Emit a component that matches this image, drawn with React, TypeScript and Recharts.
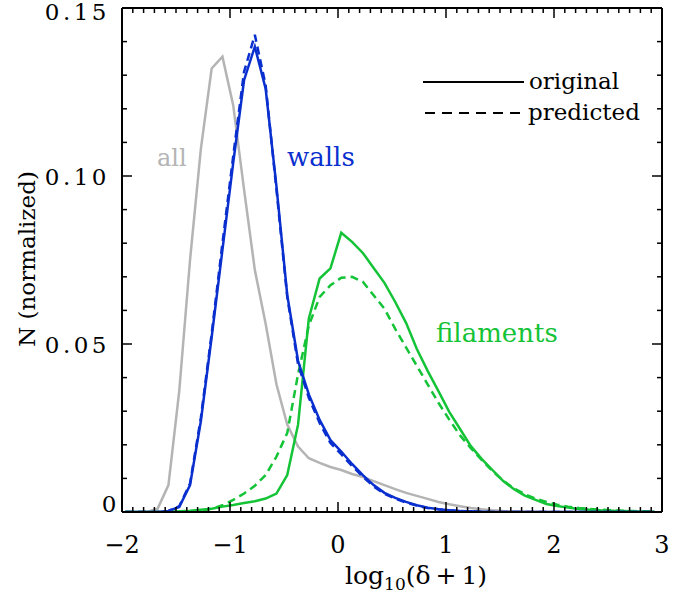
import React from 'react';
import { LineChart, Line, XAxis, YAxis, ReferenceLine } from 'recharts';

// bin centres of log10(delta+1)
const xVals = [
  -1.97, -1.87, -1.77, -1.67, -1.57, -1.47, -1.37, -1.27, -1.17, -1.07,
  -0.97, -0.87, -0.77, -0.67, -0.57, -0.47, -0.37, -0.27, -0.17, -0.07,
  0.03, 0.13, 0.23, 0.33, 0.43, 0.53, 0.63, 0.73, 0.83, 0.93,
  1.03, 1.13, 1.23, 1.33, 1.43, 1.53, 1.63, 1.73, 1.83, 1.93,
  2.03, 2.13, 2.23, 2.33, 2.43, 2.53, 2.63, 2.73, 2.83, 2.93,
];

const allVals = [
  0, 0, 0, 0.001, 0.008, 0.036, 0.075, 0.108, 0.132, 0.1355,
  0.121, 0.096, 0.072, 0.056, 0.038, 0.026, 0.0195, 0.016, 0.0146, 0.0134,
  0.0125, 0.0113, 0.0104, 0.0092, 0.008, 0.0068, 0.0057, 0.0048, 0.0039, 0.003,
  0.0023, 0.0017, 0.0012, 0.0008, 0.0005, 0.0003, 0.0002, 0.0001, 0.0001, 0,
  0, 0, 0, 0, 0, 0, 0, 0, 0, 0,
];

const wallsOrig = [
  0, 0, 0, 0, 0.0003, 0.0015, 0.008, 0.027, 0.052, 0.078,
  0.104, 0.1285, 0.1385, 0.126, 0.097, 0.0646, 0.045, 0.035, 0.0274, 0.0214,
  0.018, 0.0143, 0.011, 0.008, 0.0057, 0.0042, 0.003, 0.002, 0.0013, 0.0008,
  0.0005, 0.0003, 0.0002, 0.0001, 0, 0, 0, 0, 0, 0,
  0, 0, 0, 0, 0, 0, 0, 0, 0, 0,
];

const wallsPred = [
  0, 0, 0, 0, 0.0003, 0.0017, 0.0085, 0.028, 0.053, 0.08,
  0.106, 0.131, 0.142, 0.127, 0.096, 0.064, 0.044, 0.034, 0.0265, 0.0205,
  0.0172, 0.0137, 0.0105, 0.0076, 0.0054, 0.004, 0.0028, 0.0019, 0.0012, 0.0008,
  0.0005, 0.0003, 0.0002, 0.0001, 0, 0, 0, 0, 0, 0,
  0, 0, 0, 0, 0, 0, 0, 0, 0, 0,
];

const filOrig = [
  0, 0, 0, 0, 0.0001, 0.0002, 0.0004, 0.0007, 0.001, 0.0016,
  0.0021, 0.0027, 0.0032, 0.004, 0.0055, 0.011, 0.026, 0.0576, 0.0695, 0.0725,
  0.0831, 0.0804, 0.0771, 0.0726, 0.0682, 0.0625, 0.0563, 0.0485, 0.042, 0.036,
  0.0298, 0.0247, 0.0196, 0.0158, 0.0125, 0.0092, 0.0068, 0.0049, 0.0036, 0.0024,
  0.0018, 0.0013, 0.0009, 0.0007, 0.0005, 0.0004, 0.0003, 0.0002, 0.0001, 0.0001,
];

const filPred = [
  0, 0, 0, 0, 0, 0.0001, 0.0002, 0.0004, 0.001, 0.002,
  0.0036, 0.0055, 0.0078, 0.011, 0.0165, 0.0235, 0.041, 0.0555, 0.064, 0.0675,
  0.0697, 0.07, 0.0685, 0.0645, 0.0605, 0.0545, 0.049, 0.0435, 0.038, 0.0325,
  0.0275, 0.0228, 0.019, 0.0155, 0.0122, 0.0093, 0.007, 0.0053, 0.004, 0.003,
  0.0022, 0.0016, 0.0012, 0.0009, 0.0007, 0.0005, 0.0004, 0.0003, 0.0002, 0.0001,
];

const xMajorLabels = ['\u22122', '\u22121', '0', '1', '2', '3'];
const yMajorLabels = ['0', '0.05', '0.10', '0.15'];

const data = xVals.map((x, i) => ({
  x,
  all: allVals[i],
  wallsOrig: wallsOrig[i],
  wallsPred: wallsPred[i],
  filOrig: filOrig[i],
  filPred: filPred[i],
}));

const xTicks: number[] = [];
for (let i = -20; i <= 30; i++) xTicks.push(i / 10);
const yTicks: number[] = [];
for (let i = 0; i <= 15; i++) yTicks.push(i / 100);

const W = 679;
const H = 594;
const PLOT_TOP = 8;
const PLOT_RIGHT = 662;
const FONT = '"DejaVu Serif", serif';
const GRAY = '#b4b4b4';
const BLUE = '#0a2fcf';
const GREEN = '#14c336';

const XTick = (props: any) => {
  const { x, y, payload } = props;
  const v = payload.value;
  const major = Math.abs(v - Math.round(v)) < 1e-6;
  const len = major ? 10 : 5;
  return (
    <g>
      <line x1={x} x2={x} y1={y} y2={y - len} stroke="#000" strokeWidth={1.5} />
      <line x1={x} x2={x} y1={PLOT_TOP} y2={PLOT_TOP + len} stroke="#000" strokeWidth={1.5} />
      {major && (
        <text x={x} y={y + 41} textAnchor="middle" fontFamily={FONT} fontSize={24} fill="#000">
          {xMajorLabels[Math.round(v) + 2]}
        </text>
      )}
    </g>
  );
};

const YTick = (props: any) => {
  const { x, y, payload } = props;
  const k = Math.round(payload.value * 100);
  const major = k % 5 === 0;
  const len = major ? 10 : 5;
  const isZero = k === 0;
  return (
    <g>
      <line x1={x} x2={x + len} y1={y} y2={y} stroke="#000" strokeWidth={1.5} />
      <line x1={PLOT_RIGHT} x2={PLOT_RIGHT - len} y1={y} y2={y} stroke="#000" strokeWidth={1.5} />
      {major && (
        <text
          x={isZero ? x - 2 : x - 12}
          y={isZero ? y : k === 15 ? y + 12 : y + 9}
          textAnchor="end"
          fontFamily={FONT}
          fontSize={23}
          letterSpacing={3.5}
          fill="#000"
        >
          {yMajorLabels[k / 5]}
        </text>
      )}
    </g>
  );
};

export default function App() {
  return (
    <div style={{ position: 'absolute', left: 0, top: 0, width: W, height: H, background: '#fff' }}>
      <LineChart width={W} height={H} data={data} margin={{ top: 8, right: 17, bottom: 32, left: 22 }}>
        <XAxis
          dataKey="x"
          type="number"
          domain={[-2, 3]}
          ticks={xTicks}
          interval={0}
          height={50}
          tickSize={0}
          tickMargin={0}
          tick={XTick}
          tickLine={false}
          axisLine={{ stroke: '#000', strokeWidth: 2 }}
          allowDataOverflow
        />
        <YAxis
          type="number"
          domain={[0, 0.15]}
          ticks={yTicks}
          interval={0}
          width={100}
          tickSize={0}
          tickMargin={0}
          tick={YTick}
          tickLine={false}
          axisLine={{ stroke: '#000', strokeWidth: 2 }}
          allowDataOverflow
        />
        <ReferenceLine y={0.15} stroke="#000" strokeWidth={2} />
        <ReferenceLine x={3} stroke="#000" strokeWidth={2} />
        <Line type="linear" dataKey="all" stroke={GRAY} strokeWidth={2.5} dot={false} activeDot={false} isAnimationActive={false} />
        <Line type="linear" dataKey="filPred" stroke={GREEN} strokeWidth={2.5} strokeDasharray="8 5" dot={false} activeDot={false} isAnimationActive={false} />
        <Line type="linear" dataKey="filOrig" stroke={GREEN} strokeWidth={2.5} dot={false} activeDot={false} isAnimationActive={false} />
        <Line type="linear" dataKey="wallsPred" stroke={BLUE} strokeWidth={2.5} strokeDasharray="8 5" dot={false} activeDot={false} isAnimationActive={false} />
        <Line type="linear" dataKey="wallsOrig" stroke={BLUE} strokeWidth={2.5} dot={false} activeDot={false} isAnimationActive={false} />
      </LineChart>
      <svg width={W} height={H} style={{ position: 'absolute', left: 0, top: 0, pointerEvents: 'none' }}>
        <text x={157} y={166} fontFamily={FONT} fontSize={24} fill={GRAY}>all</text>
        <text x={287} y={166} fontFamily={FONT} fontSize={26} fill={BLUE}>walls</text>
        <text x={436} y={342} fontFamily={FONT} fontSize={26} fill={GREEN}>filaments</text>
        <line x1={423} x2={524} y1={82} y2={82} stroke="#000" strokeWidth={2} />
        <text x={529} y={89} fontFamily={FONT} fontSize={23} fill="#000">original</text>
        <line x1={425} x2={524} y1={113} y2={113} stroke="#000" strokeWidth={2} strokeDasharray="10 7" />
        <text x={528} y={120} fontFamily={FONT} fontSize={23} fill="#000">predicted</text>
        <text
          transform="translate(35,259) rotate(-90)"
          textAnchor="middle"
          fontFamily={FONT}
          fontSize={23}
          fill="#000"
        >
          N (normalized)
        </text>
        <text x={345} y={584} fontFamily={FONT} fontSize={25} fill="#000">
          log<tspan fontSize={17} dy={6}>10</tspan>
          <tspan dy={-6}>(δ{'\u2009'}+{'\u2009'}1)</tspan>
        </text>
      </svg>
    </div>
  );
}
